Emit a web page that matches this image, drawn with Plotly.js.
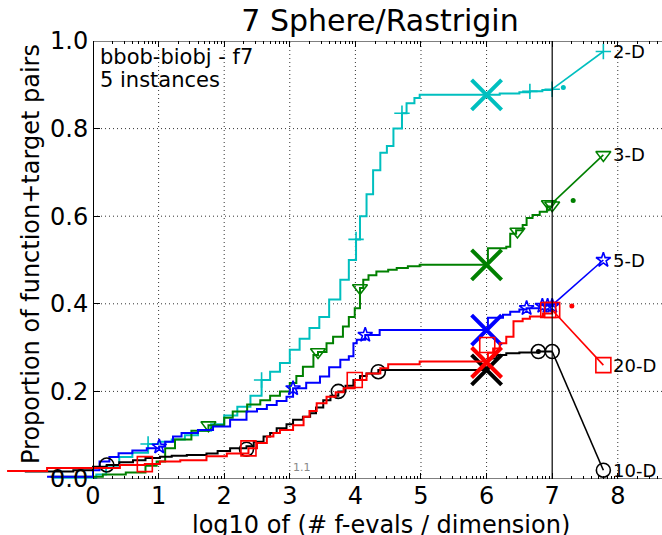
<!DOCTYPE html>
<html>
<head>
<meta charset="utf-8">
<script src="https://cdn.plot.ly/plotly-3.0.1.min.js"></script>
<style>html,body{margin:0;padding:0;background:#fff;}</style>
</head>
<body>
<div id="chart" style="width:662px;height:535px;"></div>
<script>
// ---------- data ----------
const dims = ['2-D', '3-D', '5-D', '10-D', '20-D'];

// step (ECDF) curves, log10(#f-evals/dim) vs proportion
const x2D = [-0.6, 0.05, 0.2, 0.4, 0.6, 0.84, 1.0, 1.2, 1.4, 1.6, 1.8, 2.0, 2.2, 2.4, 2.57, 2.7, 2.85, 3.0, 3.15, 3.3, 3.45, 3.6, 3.77, 3.9, 4.01, 4.07, 4.17, 4.27, 4.38, 4.48, 4.58, 4.71, 4.78, 4.9, 4.98, 6.2, 6.5, 6.66, 6.85, 7.0];
const y2D = [0.003, 0.01, 0.03, 0.05, 0.06, 0.08, 0.085, 0.09, 0.10, 0.11, 0.125, 0.145, 0.165, 0.19, 0.226, 0.245, 0.265, 0.295, 0.32, 0.345, 0.37, 0.41, 0.455, 0.5, 0.547, 0.6, 0.65, 0.705, 0.745, 0.76, 0.80, 0.835, 0.858, 0.87, 0.877, 0.88, 0.883, 0.885, 0.888, 0.89];

const x3D = [-0.65, 0.15, 0.5, 0.8, 0.97, 1.1, 1.25, 1.5, 1.76, 2.0, 2.13, 2.35, 2.55, 2.7, 2.85, 3.0, 3.1, 3.2, 3.36, 3.43, 3.56, 3.66, 3.81, 3.9, 3.99, 4.07, 4.12, 4.2, 4.32, 4.5, 4.63, 4.8, 4.98, 6.02, 6.3, 6.36, 6.45, 6.55, 6.61, 6.7, 6.81, 6.92, 7.0];
const y3D = [0.005, 0.01, 0.015, 0.03, 0.04, 0.07, 0.09, 0.11, 0.123, 0.14, 0.154, 0.17, 0.18, 0.19, 0.2, 0.219, 0.235, 0.256, 0.283, 0.29, 0.31, 0.325, 0.348, 0.37, 0.39, 0.436, 0.455, 0.465, 0.474, 0.478, 0.482, 0.486, 0.489, 0.527, 0.53, 0.56, 0.568, 0.58, 0.596, 0.603, 0.61, 0.622, 0.63];

const x5D = [-0.7, 0.0, 0.1, 0.25, 0.39, 0.6, 0.82, 1.01, 1.1, 1.22, 1.35, 1.6, 1.83, 2.09, 2.34, 2.5, 2.65, 2.8, 2.95, 3.05, 3.25, 3.46, 3.6, 3.77, 3.9, 3.97, 4.02, 4.15, 4.37, 6.02, 6.25, 6.36, 6.5, 6.61, 6.81, 7.0];
const y5D = [0.005, 0.02, 0.04, 0.05, 0.059, 0.065, 0.07, 0.074, 0.085, 0.097, 0.105, 0.112, 0.12, 0.135, 0.154, 0.16, 0.169, 0.178, 0.188, 0.207, 0.22, 0.234, 0.255, 0.272, 0.28, 0.31, 0.318, 0.329, 0.34, 0.368, 0.375, 0.382, 0.387, 0.39, 0.397, 0.397];

const x10D = [-1.04, -0.3, 0.0, 0.21, 0.4, 0.61, 0.8, 1.02, 1.2, 1.43, 1.73, 1.9, 2.09, 2.34, 2.45, 2.6, 2.7, 2.8, 2.95, 3.05, 3.2, 3.31, 3.4, 3.51, 3.62, 3.74, 3.85, 3.97, 4.07, 4.17, 4.35, 6.02, 6.15, 6.3, 6.5, 6.79, 7.0];
const y10D = [0.017, 0.02, 0.028, 0.032, 0.038, 0.043, 0.048, 0.051, 0.053, 0.055, 0.058, 0.064, 0.07, 0.075, 0.085, 0.097, 0.105, 0.116, 0.125, 0.135, 0.142, 0.15, 0.163, 0.18, 0.19, 0.2, 0.213, 0.226, 0.235, 0.241, 0.249, 0.275, 0.283, 0.287, 0.289, 0.291, 0.291];

const x20D = [-1.31, -0.7, 0.41, 0.79, 1.02, 1.33, 1.73, 2.04, 2.37, 2.5, 2.65, 2.75, 2.85, 3.05, 3.21, 3.3, 3.41, 3.56, 3.7, 3.82, 3.99, 4.17, 4.38, 4.5, 4.98, 6.02, 6.1, 6.2, 6.3, 6.41, 6.55, 6.66, 6.86, 7.0];
const y20D = [0.018, 0.025, 0.032, 0.034, 0.04, 0.043, 0.052, 0.058, 0.07, 0.082, 0.097, 0.105, 0.112, 0.123, 0.142, 0.155, 0.173, 0.188, 0.198, 0.207, 0.226, 0.241, 0.253, 0.262, 0.268, 0.288, 0.298, 0.31, 0.325, 0.36, 0.366, 0.371, 0.378, 0.386];

// sparse markers along each curve
const mk2Dx = [0.84, 2.57, 4.01, 4.71, 6.66, 7.0];
const mk2Dy = [0.08, 0.226, 0.547, 0.835, 0.885, 0.89];
const mk3Dx = [1.76, 3.43, 4.07, 6.47, 6.95, 7.0];
const mk3Dy = [0.123, 0.29, 0.436, 0.565, 0.628, 0.625];
const mk5Dx = [1.01, 3.05, 4.15, 6.61, 6.85, 6.93, 7.0];
const mk5Dy = [0.074, 0.207, 0.329, 0.39, 0.395, 0.395, 0.395];
const mk10Dx = [0.21, 2.34, 3.74, 4.35, 6.79, 7.0];
const mk10Dy = [0.032, 0.068, 0.2, 0.245, 0.291, 0.291];
const mk20Dx = [0.79, 2.37, 3.99, 6.01, 6.94, 7.0];
const mk20Dy = [0.034, 0.07, 0.226, 0.306, 0.386, 0.386];

// big cross markers (budget) at x = 6
const crossX = [6.0, 6.0, 6.0, 6.0, 6.0];
const crossY = [0.877, 0.489, 0.34, 0.249, 0.266];

// end values at x=7 and final values (labelled)
const at7Y = [0.89, 0.63, 0.397, 0.291, 0.386];
const endX = [7.78, 7.78, 7.78, 7.78, 7.78];
const endY = [0.976, 0.74, 0.5, 0.02, 0.26];

// small dots
const dotX = [7.17, 7.32, 7.0, 6.79, 7.3];
const dotY = [0.894, 0.636, 0.397, 0.291, 0.395];

const xTicks = [0, 1, 2, 3, 4, 5, 6, 7, 8];
const yTicks = [0, 0.2, 0.4, 0.6, 0.8, 1.0];
const yTickText = ['0.0', '0.2', '0.4', '0.6', '0.8', '1.0'];

// ---------- styles ----------
const colors = ['#00bfbf', '#008000', '#0000ff', '#000000', '#ff0000'];
const symbols = ['cross-thin-open', 'triangle-down-open', 'star-open', 'circle-open', 'square-open'];
const msizes = [11, 13, 11, 14, 15];
const font = 'DejaVu Sans, Liberation Sans, sans-serif';

const curvesX = [x2D, x3D, x5D, x10D, x20D];
const curvesY = [y2D, y3D, y5D, y10D, y20D];
const mkX = [mk2Dx, mk3Dx, mk5Dx, mk10Dx, mk20Dx];
const mkY = [mk2Dy, mk3Dy, mk5Dy, mk10Dy, mk20Dy];

const traces = [];
dims.forEach((d, i) => {
  traces.push({
    x: curvesX[i], y: curvesY[i], type: 'scatter', mode: 'lines',
    line: {color: colors[i], width: 2, shape: 'hv'}, hoverinfo: 'skip'
  });
  traces.push({
    x: [7.0, endX[i]], y: [at7Y[i], endY[i]], type: 'scatter', mode: 'lines',
    line: {color: colors[i], width: 1.6}, hoverinfo: 'skip'
  });
  traces.push({
    x: mkX[i].concat([endX[i]]), y: mkY[i].concat([endY[i]]), type: 'scatter', mode: 'markers',
    cliponaxis: false,
    marker: {symbol: symbols[i], size: msizes[i], color: colors[i], line: {color: colors[i], width: 1.6}},
    hoverinfo: 'skip'
  });
  traces.push({
    x: [crossX[i]], y: [crossY[i]], type: 'scatter', mode: 'markers', cliponaxis: false,
    marker: {symbol: 'x-thin-open', size: 30, color: colors[i], line: {color: colors[i], width: 4}},
    hoverinfo: 'skip'
  });
  traces.push({
    x: [dotX[i]], y: [dotY[i]], type: 'scatter', mode: 'markers', cliponaxis: false,
    marker: {symbol: 'circle', size: 5, color: colors[i]}, hoverinfo: 'skip'
  });
});

const xMin = -1.311, xMax = 8.674;
const minorVals = [];
for (let k = 0; k <= 8; k++) {
  [2, 3, 4, 5, 6, 7, 8, 9].forEach(m => minorVals.push(k + Math.log10(m)));
}

const gridLine = {color: '#333', width: 1, dash: '1px,3px'};
const shapes = [];
// dotted grid
[1, 2, 3, 4, 5, 6, 8].forEach(v => shapes.push({
  type: 'line', xref: 'x', yref: 'y', x0: v, x1: v, y0: 0, y1: 1, layer: 'below', line: gridLine
}));
[0.2, 0.4, 0.6, 0.8].forEach(v => shapes.push({
  type: 'line', xref: 'x', yref: 'y', x0: 0, x1: xMax, y0: v, y1: v, layer: 'below', line: gridLine
}));
// frame
shapes.push({type: 'line', xref: 'x', yref: 'y', x0: 0, x1: xMax, y0: 0, y1: 0, line: {color: 'black', width: 1.2}});
shapes.push({type: 'line', xref: 'x', yref: 'y', x0: 0, x1: xMax, y0: 1, y1: 1, line: {color: 'black', width: 1.2}});
// vertical line at 7
shapes.push({type: 'line', xref: 'x', yref: 'y', x0: 7, x1: 7, y0: 0, y1: 1, line: {color: 'black', width: 1.2}});

const annotations = [];
dims.forEach((d, i) => annotations.push({
  x: endX[i], y: endY[i], xref: 'x', yref: 'y', text: d, showarrow: false,
  xanchor: 'left', yanchor: 'middle', xshift: 8,
  font: {family: font, size: 18, color: 'black'}
}));
annotations.push({
  x: 0.07, y: 0.963, xref: 'x', yref: 'y', text: 'bbob-biobj - f7', showarrow: false,
  xanchor: 'left', yanchor: 'middle', font: {family: font, size: 21, color: 'black'}
});
annotations.push({
  x: 0.07, y: 0.912, xref: 'x', yref: 'y', text: '5 instances', showarrow: false,
  xanchor: 'left', yanchor: 'middle', font: {family: font, size: 21, color: 'black'}
});
annotations.push({
  x: 3.19, y: 0.026, xref: 'x', yref: 'y', text: '1.1', showarrow: false,
  xanchor: 'center', yanchor: 'middle', font: {family: font, size: 11, color: '#888'}
});
// axis titles
annotations.push({
  x: (381 - 7) / 655, y: (479 - 525) / 438, xref: 'paper', yref: 'paper',
  text: 'log10 of (# f-evals / dimension)',
  showarrow: false, xanchor: 'center', yanchor: 'middle',
  font: {family: font, size: 24, color: 'black'}
});
annotations.push({
  x: (31 - 7) / 655, y: (479 - 254) / 438, xref: 'paper', yref: 'paper',
  text: 'Proportion of function+target pairs', textangle: -90,
  showarrow: false, xanchor: 'center', yanchor: 'middle',
  font: {family: font, size: 24, color: 'black'}
});

const layout = {
  width: 662, height: 535,
  margin: {l: 7, r: 0, t: 41, b: 56, pad: 0},
  paper_bgcolor: 'white', plot_bgcolor: 'white',
  showlegend: false,
  title: {
    text: '7 Sphere/Rastrigin', x: 380 / 662, xref: 'container', xanchor: 'center',
    y: 1 - 20 / 535, yref: 'container', yanchor: 'middle',
    font: {family: font, size: 30, color: 'black'}
  },
  xaxis: {
    range: [xMin, xMax], tickmode: 'array', tickvals: xTicks, ticktext: xTicks.map(String),
    ticks: 'inside', ticklen: 6, tickwidth: 1, tickcolor: 'black', mirror: 'ticks',
    showline: false, showgrid: false, zeroline: false, automargin: false,
    tickfont: {family: font, size: 24, color: 'black'},
    minor: {tickvals: minorVals, ticks: 'inside', ticklen: 3, tickcolor: 'black', showgrid: false}
  },
  yaxis: {
    range: [0, 1], anchor: 'free', position: (0 - xMin) / (xMax - xMin),
    tickmode: 'array', tickvals: yTicks, ticktext: yTickText,
    ticks: 'inside', ticklen: 6, tickwidth: 1, tickcolor: 'black',
    showline: true, linecolor: 'black', linewidth: 1.2,
    showgrid: false, zeroline: false, automargin: false,
    tickfont: {family: font, size: 24, color: 'black'}
  },
  shapes: shapes,
  annotations: annotations
};

Plotly.newPlot('chart', traces, layout, {displayModeBar: false, staticPlot: true});
</script>
</body>
</html>
